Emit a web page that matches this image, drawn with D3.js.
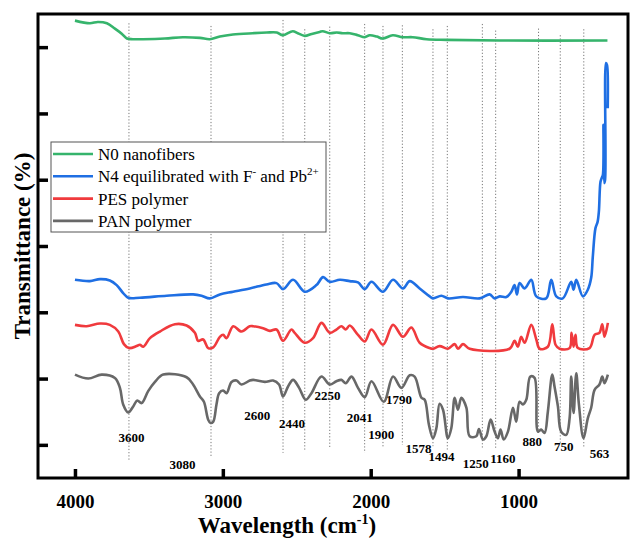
<!DOCTYPE html>
<html>
<head>
<meta charset="utf-8">
<script src="https://cdn.jsdelivr.net/npm/d3@7"></script>
<style>
  body { margin: 0; background: #fff; }
  svg { display: block; }
</style>
</head>
<body>
<script>
var width = 630,
	height = 539;

// spectra, [wavenumber cm-1, transmittance a.u.]
var n0 = [[4000,69.0],[3899,68.6],[3845,68.8],[3784,68.6],[3730,67.8],[3682,67.0],[3649,66.3],[3608,66.2],
	[3541,66.2],[3392,66.3],[3270,66.5],[3155,66.4],[3088,66.2],[3020,66.6],[2932,66.9],[2797,67.1],
	[2703,67.2],[2635,67.2],[2595,66.8],[2527,67.4],[2493,67.1],[2446,66.7],[2399,67.0],[2345,67.3],
	[2324,67.4],[2277,67.1],[2230,67.2],[2189,67.1],[2142,67.1],[2088,66.8],[2040,66.5],[2007,66.8],
	[1959,66.6],[1919,66.3],[1851,66.8],[1784,66.5],[1716,66.5],[1622,66.2],[1486,66.1],[1128,66.0],[399,66.0]];

var n4 = [[4000,29.9],[3899,29.7],[3831,30.0],[3764,29.8],[3718,29.1],[3674,27.9],[3640,27.2],[3561,27.2],
	[3380,27.5],[3201,27.7],[3144,27.5],[3088,27.1],[3020,27.7],[2930,28.1],[2818,28.6],[2705,29.2],
	[2637,29.4],[2593,28.5],[2525,29.9],[2446,28.1],[2367,29.1],[2322,30.3],[2277,29.6],[2209,29.9],
	[2142,29.7],[2086,29.5],[2040,28.5],[1995,29.6],[1917,28.1],[1849,29.9],[1782,28.6],[1736,29.7],
	[1669,28.6],[1601,27.4],[1579,27.1],[1522,27.5],[1478,27.1],[1376,27.3],[1263,27.1],[1196,27.7],
	[1162,27.1],[1128,27.4],[1083,27.3],[1049,28.1],[1027,29.1],[1011,27.7],[993,29.4],[959,28.6],
	[914,29.9],[880,27.4],[813,27.1],[779,29.9],[745,27.4],[701,27.1],[644,29.6],[628,28.4],[610,29.9],
	[565,27.4],[532,28.4],[509,30.2],[498,33.4],[480,37.7],[466,38.6],[457,40.2],[446,44.7],[437,45.3],
	[430,45.7],[426,53.3],[421,44.5],[415,45.0],[409,62.6],[402,62.3],[397,55.8]];

var pes = [[4000,23.1],[3921,22.9],[3831,23.3],[3764,23.1],[3707,22.1],[3669,20.2],[3635,19.6],[3583,19.9],
	[3561,20.1],[3538,19.8],[3493,21.1],[3426,22.1],[3324,23.2],[3245,23.0],[3189,21.9],[3167,20.7],
	[3133,20.9],[3099,19.6],[3065,19.7],[3020,21.3],[2998,21.6],[2975,21.1],[2930,22.9],[2874,22.1],
	[2818,22.9],[2795,22.9],[2728,22.6],[2682,22.2],[2637,22.4],[2593,20.7],[2536,22.4],[2514,21.9],
	[2446,20.4],[2390,21.1],[2333,23.4],[2277,21.9],[2232,22.4],[2198,22.9],[2169,22.4],[2142,23.0],
	[2086,21.6],[2040,20.6],[1995,22.4],[1917,20.1],[1849,23.1],[1782,21.3],[1725,22.7],[1669,20.4],
	[1601,19.6],[1579,19.5],[1534,19.9],[1478,19.5],[1432,20.2],[1410,19.5],[1376,20.2],[1331,19.5],
	[1061,19.5],[1027,20.7],[1005,19.8],[982,21.3],[959,20.4],[914,23.1],[880,20.9],[858,19.5],
	[802,19.8],[772,23.2],[750,20.1],[723,19.5],[655,19.6],[642,21.9],[628,19.8],[615,21.6],[599,19.6],
	[520,19.6],[486,21.6],[453,21.9],[434,23.2],[419,21.3],[396,23.4]];

var pan = [[4000,15.6],[3910,15.0],[3820,15.6],[3730,15.1],[3696,13.6],[3674,11.1],[3640,9.9],[3606,10.8],
	[3579,11.7],[3549,11.3],[3505,13.1],[3459,14.5],[3403,15.6],[3245,15.2],[3201,14.1],[3155,12.3],
	[3128,11.5],[3099,8.8],[3083,8.3],[3065,8.5],[3043,11.1],[3025,12.8],[2998,13.2],[2975,12.8],
	[2941,14.5],[2907,14.7],[2874,14.1],[2818,14.7],[2795,14.8],[2716,14.5],[2660,14.7],[2620,14.1],
	[2593,12.3],[2559,13.8],[2525,14.8],[2484,13.6],[2439,11.8],[2401,12.8],[2333,15.3],[2277,14.1],
	[2232,14.6],[2198,14.8],[2169,14.3],[2130,15.3],[2086,13.6],[2040,12.2],[1995,14.6],[1912,11.5],
	[1849,15.3],[1792,13.6],[1736,15.5],[1703,15.3],[1657,12.1],[1635,11.8],[1606,8.0],[1579,6.0],
	[1556,7.5],[1534,11.2],[1511,10.3],[1478,6.0],[1455,7.5],[1432,12.1],[1410,10.3],[1387,12.1],
	[1353,10.6],[1331,6.3],[1286,6.3],[1268,7.4],[1241,5.8],[1218,6.3],[1189,8.8],[1162,7.0],[1140,6.0],
	[1122,7.3],[1101,5.8],[1072,7.0],[1038,10.6],[1016,8.5],[993,11.5],[971,11.1],[948,11.8],[921,15.3],
	[892,15.1],[869,7.0],[847,7.3],[824,6.8],[802,10.0],[772,15.6],[757,13.8],[734,10.8],[712,7.0],
	[678,6.5],[655,9.0],[644,15.3],[628,9.8],[610,15.8],[592,11.1],[561,6.0],[532,9.0],[509,10.6],
	[486,13.3],[453,14.1],[434,15.3],[419,14.3],[396,15.6]];

var seriesNames = ["N0 nanofibers", "N4 equilibrated with F", "PES polymer", "PAN polymer"],
	seriesData = [n0, n4, pes, pan],
	seriesColors = ["#36b46c", "#1f6fe3", "#f03a3d", "#686868"];

// marked bands
var peakWave = [3635, 3080, 2593, 2446, 2277, 2041, 1917, 1786, 1579, 1482, 1245, 1155, 865, 718, 559],
	peakTop = [68.6, 68.2, 69.1, 67.7, 68.1, 68.5, 68.2, 68.3, 67.7, 68.2, 68.5, 67.5, 67.8, 66.8, 67.7],
	peakBottom = [2.7, 3.3, 3.8, 4.0, 4.5, 3.8, 4.5, 5.0, 4.8, 4.0, 4.3, 4.5, 6.5, 5.0, 4.5],
	peakLabels = ["3600", "3080", "2600", "2440", "2250", "2041", "1900", "1790", "1578", "1494", "1250", "1160", "880", "750", "563"];
// label anchor (wavenumber, transmittance) for the label baseline
var labelWave = [3617, 3272, 2768, 2532, 2293, 2074, 1928, 1809, 1676, 1522, 1290, 1106, 907, 694, 453],
	labelT = [5.5, 1.4, 8.8, 7.6, 11.7, 8.4, 5.9, 11.1, 3.7, 2.5, 1.5, 2.3, 4.8, 4.1, 3.0];

var xTicks = [4000, 3000, 2000, 1000],
	yTicks = [5, 15, 25, 35, 45, 55, 65];

var margin = {left: 38, right: 2, top: 14, bottom: 61};

var svg = d3.select("body")
		.append("svg")
		.attr("width", width)
		.attr("height", height)
		.style("font-family", "'Liberation Serif', 'Times New Roman', serif");

var x = d3.scaleLinear().domain([4250, 260]).range([margin.left, width - margin.right]);
var y = d3.scaleLinear().domain([0, 70]).range([height - margin.bottom, margin.top]);

// dotted band markers
svg.append("g").selectAll("line")
	.data(peakWave)
	.enter().append("line")
	.attr("x1", function(d) { return x(d); })
	.attr("x2", function(d) { return x(d); })
	.attr("y1", function(d, i) { return y(peakTop[i]); })
	.attr("y2", function(d, i) { return y(peakBottom[i]); })
	.attr("stroke", "#777")
	.attr("stroke-width", 1)
	.attr("stroke-dasharray", "1.2,2");

var line = d3.line()
	.x(function(d) { return x(d[0]); })
	.y(function(d) { return y(d[1]); })
	.curve(d3.curveCatmullRom.alpha(0.5));

svg.append("g").selectAll("path")
	.data(seriesData)
	.enter().append("path")
	.attr("d", line)
	.attr("fill", "none")
	.attr("stroke", function(d, i) { return seriesColors[i]; })
	.attr("stroke-width", 2.6)
	.attr("stroke-linejoin", "round");

svg.append("g").selectAll("text")
	.data(peakLabels)
	.enter().append("text")
	.attr("x", function(d, i) { return x(labelWave[i]); })
	.attr("y", function(d, i) { return y(labelT[i]); })
	.attr("text-anchor", "middle")
	.attr("font-size", 13)
	.attr("font-weight", "bold")
	.text(function(d) { return d; });

// axes, ticks inward
var xAxis = svg.append("g")
	.attr("transform", "translate(0," + (height - margin.bottom) + ")")
	.call(d3.axisBottom(x).tickValues(xTicks).tickSize(-9).tickFormat(d3.format("d")));
xAxis.select(".domain").remove();
xAxis.selectAll("line").attr("stroke", "#000").attr("stroke-width", 3.5);
xAxis.selectAll("text")
	.attr("y", 29.5).attr("dy", 0)
	.attr("font-size", 19).attr("font-weight", "bold")
	.attr("font-family", "'Liberation Serif', serif")
	.attr("fill", "#000");

var yAxis = svg.append("g")
	.attr("transform", "translate(" + margin.left + ",0)")
	.call(d3.axisLeft(y).tickValues(yTicks).tickSize(-10).tickFormat(""));
yAxis.select(".domain").remove();
yAxis.selectAll("line").attr("stroke", "#000").attr("stroke-width", 3.5);

// frame
svg.append("rect")
	.attr("x", margin.left)
	.attr("y", margin.top)
	.attr("width", width - margin.left - margin.right)
	.attr("height", height - margin.top - margin.bottom)
	.attr("fill", "none")
	.attr("stroke", "#000")
	.attr("stroke-width", 3);

// axis titles
var xt = svg.append("text")
	.attr("x", 287)
	.attr("y", 533)
	.attr("text-anchor", "middle")
	.attr("font-size", 23)
	.attr("font-weight", "bold");
xt.append("tspan").text("Wavelength (cm");
xt.append("tspan").attr("font-size", 14).attr("dy", -9).text("-1");
xt.append("tspan").attr("dy", 9).text(")");

svg.append("text")
	.attr("transform", "translate(30,246) rotate(-90)")
	.attr("text-anchor", "middle")
	.attr("font-size", 23)
	.attr("font-weight", "bold")
	.text("Transmittance (%)");

// legend
var legend = svg.append("g").attr("transform", "translate(51,142)");
legend.append("rect")
	.attr("width", 275)
	.attr("height", 90)
	.attr("fill", "#fff")
	.attr("stroke", "#555")
	.attr("stroke-width", 1);

var rows = legend.selectAll("g.row")
	.data(seriesNames)
	.enter().append("g")
	.attr("class", "row")
	.attr("transform", function(d, i) { return "translate(0," + (12 + i * 22.3) + ")"; });
rows.append("line")
	.attr("x1", 2).attr("x2", 42)
	.attr("stroke", function(d, i) { return seriesColors[i]; })
	.attr("stroke-width", 2.6);
var lt = rows.append("text")
	.attr("x", 47)
	.attr("y", 6)
	.attr("font-size", 17);
lt.append("tspan").text(function(d) { return d; });
lt.filter(function(d, i) { return i === 1; }).each(function() {
	var t = d3.select(this);
	t.append("tspan").attr("font-size", 11).attr("dy", -7).text("-");
	t.append("tspan").attr("dy", 7).text(" and Pb");
	t.append("tspan").attr("font-size", 11).attr("dy", -7).text("2+");
});
</script>
</body>
</html>
